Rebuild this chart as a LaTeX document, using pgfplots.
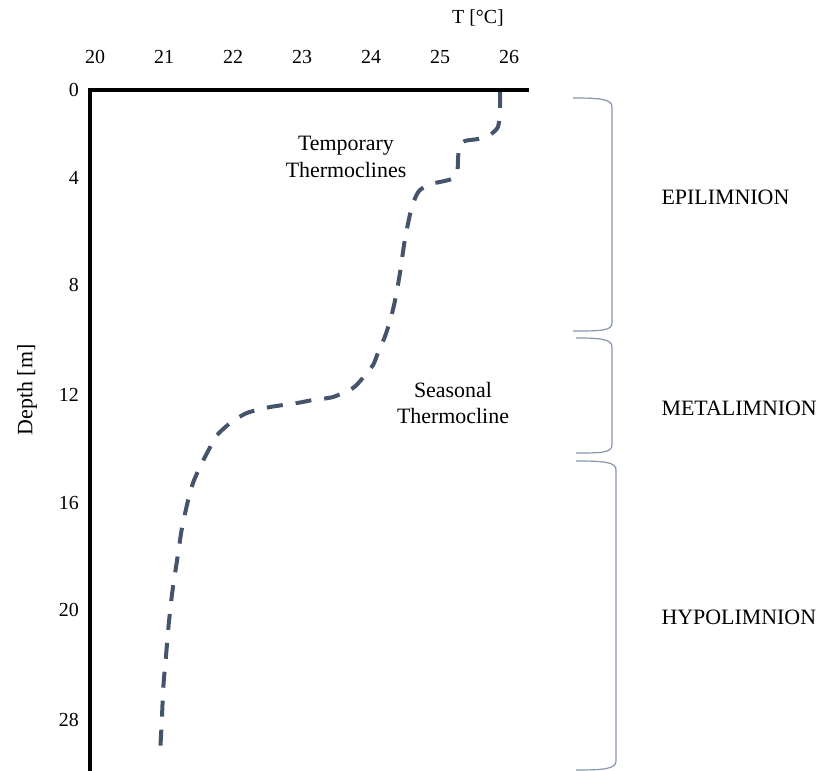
\documentclass[border=0pt]{standalone}
\usepackage{pgfplots}
\pgfplotsset{compat=1.18}
\usepackage{fontspec}
\setmainfont{Liberation Serif}
\definecolor{profile}{HTML}{44546A}
\definecolor{bracket}{HTML}{8497B0}

% Temperature profile: T in degrees C, d = position along the depth scale
\pgfplotstableread{
T      d
25.87  2
25.87  20
25.84  37
25.72  45
25.55  49
25.36  51
25.28  57
25.26  70
25.25  83
25.17  89
25.00  92
24.86  94
24.71  100
24.64  108
24.57  123
24.49  150
24.42  183
24.35  210
24.28  230
24.20  247
24.10  263
24.03  275
23.88  288
23.74  298
23.45  307
23.16  310
22.93  313
22.54  317
22.20  323
21.96  333
21.77  345
21.67  357
21.52  377
21.42  393
21.35  410
21.26  438
21.19  470
21.12  502
21.07  533
21.03  565
20.99  597
20.97  628
20.94  667
}\profiletable

\begin{document}
\begin{tikzpicture}[x=1bp,y=1bp,font=\fontsize{22}{27}\selectfont]
\useasboundingbox (0,0) rectangle (819,771);
\begin{axis}[
  at={(90bp,0bp)}, anchor=south west,
  scale only axis, width=437bp, height=681bp,
  xmin=19.9275, xmax=26.261, ymin=0, ymax=681, y dir=reverse,
  axis x line=top, axis y line=left,
  axis line style={line width=4bp, -, line cap=rect, black},
  major tick length=0pt,
  xtick={20,...,26}, xticklabels={20,21,22,23,24,25,26},
  ytick={0,88,195,305,413,520,630}, yticklabels={0,4,8,12,16,20,28},
  tick label style={font=\fontsize{20}{24}\selectfont, inner sep=0pt},
  xticklabel style={anchor=south, yshift=26bp},
  yticklabel style={anchor=east, xshift=-11bp},
  clip=false,
]
\addplot[profile, line width=4bp, dash pattern=on 16bp off 13bp, smooth, tension=0.4]
  table[x=T, y=d] {\profiletable};
\end{axis}

% axis titles
\node[font=\fontsize{20}{24}\selectfont] at (478,753) {T [°C]};
\node[rotate=90] at (27,381) {Depth [m]};

% annotations
\node[align=center] at (346,614) {Temporary\\Thermoclines};
\node[align=center] at (453,368) {Seasonal\\Thermocline};

% layer brackets
\begin{scope}[bracket, line width=1.2bp]
\draw (573,673) .. controls (600,673) and (612,672) .. (612,664) -- (612,448)
      .. controls (612,440) and (600,440) .. (573,440);
\draw (576,433) .. controls (600,433) and (612,432) .. (612,424) -- (612,326)
      .. controls (612,318) and (600,318) .. (576,318);
\draw (576,310) .. controls (604,310) and (616,309) .. (616,301) -- (616,10)
      .. controls (616,2) and (604,1) .. (576,1);
\end{scope}

\node[anchor=west] at (658,574) {EPILIMNION};
\node[anchor=west] at (658,363) {METALIMNION};
\node[anchor=west] at (658,154) {HYPOLIMNION};
\end{tikzpicture}
\end{document}
